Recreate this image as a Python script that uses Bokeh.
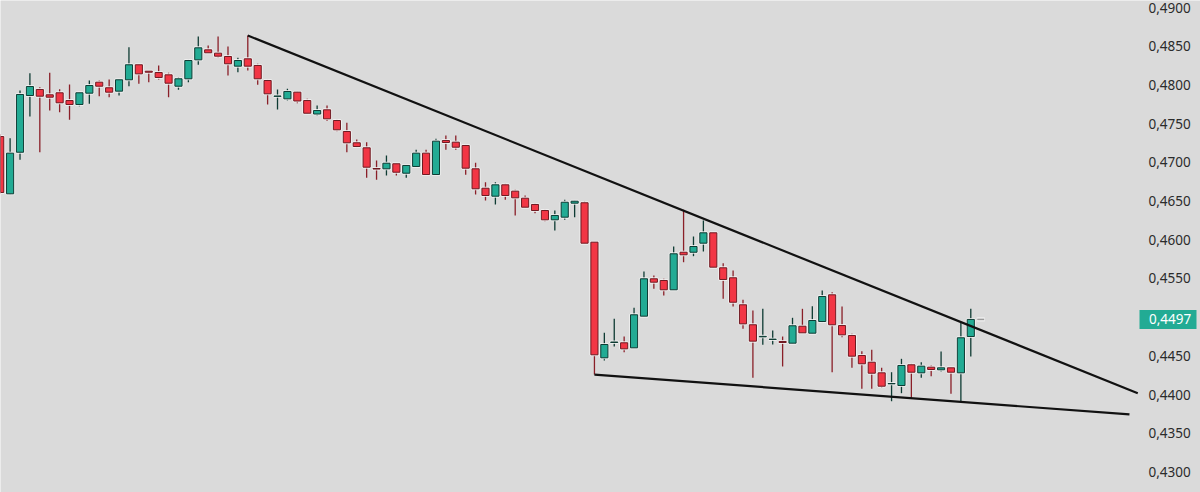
import numpy as np
from bokeh.plotting import figure
from bokeh.models import Range1d, ColumnDataSource
from bokeh.embed import file_html
from bokeh.resources import INLINE
from bokeh.core.properties import value

# ---- data ----
opens = [0.47333, 0.46593, 0.47130, 0.47863, 0.47941, 0.47872, 0.47898, 0.47798, 0.47747, 0.47893,
         0.48035, 0.47963, 0.47919, 0.48066, 0.48260, 0.48177, 0.48160, 0.48130, 0.47983, 0.48079,
         0.48324, 0.48453, 0.48410, 0.48367, 0.48242, 0.48337, 0.48251, 0.48057, 0.47854, 0.47820,
         0.47906, 0.47798, 0.47624, 0.47678, 0.47540, 0.47398, 0.47252, 0.47187, 0.46920, 0.46916,
         0.46981, 0.46859, 0.46946, 0.47118, 0.46842, 0.47282, 0.47260, 0.47217, 0.46916, 0.46665,
         0.46562, 0.46709, 0.46627, 0.46536, 0.46455, 0.46377, 0.46257, 0.46291, 0.46472, 0.46477,
         0.45968, 0.44474, 0.44672, 0.44668, 0.44603, 0.45012, 0.45495, 0.45473, 0.45353, 0.45838,
         0.45838, 0.45955, 0.46089, 0.45637, 0.45508, 0.45159, 0.44901, 0.44745, 0.44711, 0.44685,
         0.44663, 0.44882, 0.44792, 0.44943, 0.45288, 0.44891, 0.44762, 0.44504, 0.44417, 0.44280,
         0.44138, 0.44116, 0.44384, 0.44280, 0.44353, 0.44319, 0.44345, 0.44280, 0.44749]
highs = [0.47359, 0.47311, 0.47928, 0.48151, 0.47970, 0.48156, 0.47944, 0.48005, 0.47906, 0.48057,
         0.48057, 0.48070, 0.48070, 0.48487, 0.48264, 0.48180, 0.48251, 0.48156, 0.48099, 0.48324,
         0.48625, 0.48509, 0.48625, 0.48496, 0.48350, 0.48638, 0.48273, 0.48066, 0.47941, 0.47950,
         0.47915, 0.47820, 0.47734, 0.47734, 0.47553, 0.47510, 0.47295, 0.47260, 0.47023, 0.47088,
         0.46988, 0.46959, 0.47162, 0.47162, 0.47304, 0.47346, 0.47346, 0.47226, 0.46994, 0.46743,
         0.46743, 0.46722, 0.46645, 0.46571, 0.46472, 0.46390, 0.46377, 0.46515, 0.46506, 0.46494,
         0.45970, 0.44797, 0.44978, 0.44749, 0.45120, 0.45589, 0.45537, 0.45495, 0.45912, 0.46386,
         0.46041, 0.46248, 0.46093, 0.45696, 0.45602, 0.45223, 0.45085, 0.45107, 0.44827, 0.44749,
         0.44991, 0.45107, 0.45141, 0.45344, 0.45322, 0.45137, 0.44784, 0.44559, 0.44577, 0.44345,
         0.44288, 0.44461, 0.44397, 0.44417, 0.44375, 0.44556, 0.44353, 0.44934, 0.45107]
lows = [0.46597, 0.46584, 0.47032, 0.47592, 0.47130, 0.47669, 0.47647, 0.47549, 0.47725, 0.47756,
        0.47854, 0.47841, 0.47863, 0.47983, 0.48014, 0.48035, 0.48070, 0.47841, 0.47937, 0.48035,
        0.48260, 0.48412, 0.48350, 0.48121, 0.48164, 0.48186, 0.48001, 0.47747, 0.47682, 0.47798,
        0.47764, 0.47627, 0.47605, 0.47534, 0.47402, 0.47130, 0.47195, 0.46800, 0.46774, 0.46829,
        0.46829, 0.46800, 0.46939, 0.46836, 0.46836, 0.47162, 0.47162, 0.46839, 0.46584, 0.46506,
        0.46455, 0.46515, 0.46313, 0.46416, 0.46342, 0.46239, 0.46119, 0.46257, 0.46291, 0.45951,
        0.44258, 0.44439, 0.44620, 0.44546, 0.44600, 0.45008, 0.45366, 0.45279, 0.45350, 0.45709,
        0.45787, 0.45848, 0.45641, 0.45236, 0.45137, 0.44849, 0.44216, 0.44642, 0.44646, 0.44362,
        0.44659, 0.44795, 0.44788, 0.44934, 0.44288, 0.44740, 0.44345, 0.44074, 0.44074, 0.44087,
        0.43913, 0.44017, 0.43957, 0.44216, 0.44236, 0.44297, 0.44009, 0.43913, 0.44491]
closes = [0.46610, 0.47118, 0.47876, 0.47979, 0.47854, 0.47841, 0.47769, 0.47747, 0.47898, 0.47992,
          0.47983, 0.47906, 0.48066, 0.48260, 0.48143, 0.48164, 0.48096, 0.48022, 0.48079, 0.48315,
          0.48479, 0.48415, 0.48371, 0.48273, 0.48315, 0.48242, 0.48079, 0.47885, 0.47854, 0.47915,
          0.47792, 0.47634, 0.47669, 0.47562, 0.47420, 0.47252, 0.47204, 0.46937, 0.46913, 0.46988,
          0.46872, 0.46959, 0.47118, 0.46842, 0.47273, 0.47256, 0.47195, 0.46924, 0.46658, 0.46571,
          0.46709, 0.46571, 0.46541, 0.46420, 0.46377, 0.46257, 0.46313, 0.46484, 0.46497, 0.45955,
          0.44513, 0.44646, 0.44678, 0.44590, 0.45030, 0.45495, 0.45451, 0.45353, 0.45818, 0.45805,
          0.45912, 0.46089, 0.45645, 0.45486, 0.45192, 0.44913, 0.44689, 0.44751, 0.44715, 0.44672,
          0.44888, 0.44797, 0.44956, 0.45266, 0.44901, 0.44771, 0.44495, 0.44397, 0.44275, 0.44107,
          0.44142, 0.44375, 0.44288, 0.44366, 0.44323, 0.44345, 0.44288, 0.44733, 0.44970]

y_ticks = [0.4900, 0.4850, 0.4800, 0.4750, 0.4700, 0.4650, 0.4600, 0.4550, 0.4450, 0.4400, 0.4350, 0.4300]
y_tick_labels = ["0,4900", "0,4850", "0,4800", "0,4750", "0,4700", "0,4650", "0,4600", "0,4550",
                 "0,4450", "0,4400", "0,4350", "0,4300"]

# trend lines: (bar index, price) end points
upper_trend_x = [25, 114.86]
upper_trend_y = [0.48638, 0.44017]
lower_trend_x = [60, 114.02]
lower_trend_y = [0.44258, 0.43742]

last_price = 0.4497
last_price_text = "0,4497"

# ---- layout / styling ----
W, H = 1200, 492
PX_PER_BAR = 9.904          # horizontal pixels per bar
PX_PER_UNIT = 7740.0        # vertical pixels per price unit
x_start = 0.0303
x_end = x_start + W / PX_PER_BAR
y_end = 0.49 + 7 / PX_PER_UNIT
y_start = y_end - H / PX_PER_UNIT
tag_center_x = x_start + 1167.5 / PX_PER_BAR   # centre of the price tag box
label_x = x_start + 1148 / PX_PER_BAR

BG = "#dadada"
GREEN = "#22ab94"
RED = "#f23645"
GREEN_DARK = "#0e3b33"
RED_DARK = "#6e1a22"
RED_WICK = "#8a1f28"
FONT = "Noto Sans"

o = np.array(opens); h = np.array(highs); l = np.array(lows); c = np.array(closes)
idx = np.arange(len(o))
inc = c >= o
top = np.maximum(o, c)
bot = np.minimum(o, c)
mid = (top + bot) / 2
tiny = 0.00004
small = (top - bot) < tiny
top = np.where(small, mid + tiny / 2, top)
bot = np.where(small, mid - tiny / 2, bot)

src = ColumnDataSource(dict(
    x=idx, high=h, low=l, top=top, bottom=bot,
    fill=[GREEN if i else RED for i in inc],
    border=[GREEN_DARK if i else RED_DARK for i in inc],
    wick=[GREEN_DARK if i else RED_WICK for i in inc],
))

p = figure(width=W, height=H, output_backend="svg", toolbar_location=None,
           x_range=Range1d(x_start, x_end), y_range=Range1d(y_start, y_end),
           x_axis_location=None, y_axis_location=None,
           min_border_left=0, min_border_top=0, min_border_bottom=0, min_border_right=0)
p.background_fill_color = BG
p.border_fill_color = BG
p.outline_line_color = None
p.xgrid.visible = False
p.ygrid.visible = False

# wicks
p.segment(x0="x", y0="low", x1="x", y1="high", line_color="wick", line_width=1.3, source=src)
# light halo around bodies
p.vbar(x="x", width=0.72, top="top", bottom="bottom", fill_color=None,
       line_color="#f2f2f2", line_width=3, line_alpha=0.85, source=src)
# bodies
p.vbar(x="x", width=0.72, top="top", bottom="bottom", fill_color="fill",
       line_color="border", line_width=1, source=src)

# trend lines
p.line(upper_trend_x, upper_trend_y, line_color="#111111", line_width=2.2)
p.line(lower_trend_x, lower_trend_y, line_color="#111111", line_width=2.2)

# last-price dash right of last bar
p.segment(x0=[idx[-1] + 0.6], y0=[last_price], x1=[idx[-1] + 1.4], y1=[last_price],
          line_color="#f4f4f4", line_width=4)
p.segment(x0=[idx[-1] + 0.65], y0=[last_price], x1=[idx[-1] + 1.35], y1=[last_price],
          line_color="#9a9a9a", line_width=1.6)

# price scale labels
p.text(x=[label_x] * len(y_ticks), y=y_ticks, text=y_tick_labels,
       text_font=value(FONT), text_font_size="13.5px", text_color="#2b2b2b",
       text_align="left", text_baseline="middle")

# last price tag
p.rect(x=[tag_center_x], y=[last_price], width=57, height=19, width_units="screen",
       height_units="screen", fill_color=GREEN, line_color=None)
p.text(x=[label_x + 0.05], y=[last_price], text=[last_price_text],
       text_font=value(FONT), text_font_size="13.5px", text_color="white",
       text_align="left", text_baseline="middle")

open("out.html", "w").write(file_html(p, INLINE))
